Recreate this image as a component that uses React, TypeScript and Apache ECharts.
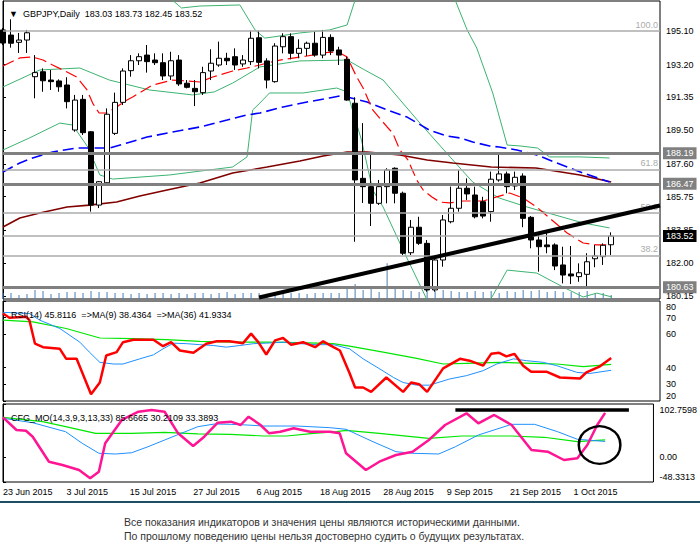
import React, { useEffect, useRef } from 'react';
import * as echarts from 'echarts';

// ---------- price data (daily candles, index 0 = 23 Jun 2015) ----------
const opens = [195.16,194.87,194.46,194.59,192.52,192.80,192.33,192.28,192.05,189.51,191.24,189.41,185.27,186.53,189.32,191.07,192.86,193.42,193.74,193.46,193.31,192.56,193.46,192.15,191.86,191.62,192.84,193.18,193.56,193.65,193.24,193.37,194.72,193.41,192.24,194.21,194.78,193.84,194.12,194.41,193.74,194.74,194.03,193.50,191.02,186.78,186.31,185.37,186.31,187.35,185.94,182.58,184.02,183.11,180.48,182.17,184.33,185.09,186.22,185.84,185.46,184.90,186.69,187.03,186.35,186.91,184.58,183.30,183.02,183.02,181.89,181.38,181.23,181.36,182.24,182.36,183.03];
const highs = [195.27,195.76,194.99,195.16,193.74,192.99,192.90,192.37,192.49,191.49,191.49,189.45,186.63,190.73,191.62,192.99,193.74,193.84,194.31,193.84,193.84,193.93,193.74,192.33,192.33,193.08,194.07,194.50,193.87,194.12,193.74,195.12,195.12,193.56,194.41,194.97,194.97,194.63,194.50,195.06,195.16,194.91,194.21,193.65,191.36,189.90,188.10,186.69,187.35,187.40,186.03,184.43,184.61,183.30,182.36,184.71,186.31,187.25,186.78,186.31,185.74,187.16,188.10,187.16,187.16,187.06,184.65,183.58,183.86,183.11,182.92,182.96,181.98,182.55,183.02,183.11,183.73];
const lows = [194.31,194.16,193.86,193.86,191.30,191.67,191.77,191.67,190.73,189.41,189.23,184.90,185.10,186.40,189.23,190.92,192.52,193.18,192.75,193.18,192.33,192.33,192.00,191.86,190.86,191.49,192.33,193.08,193.18,192.90,193.08,193.18,192.99,191.86,192.18,193.84,193.50,193.56,193.69,193.65,193.56,193.74,193.18,191.16,183.20,185.39,184.09,185.28,185.37,185.37,182.45,182.45,183.02,180.38,180.38,181.79,184.24,184.90,185.56,184.52,184.52,184.33,186.59,185.94,186.12,184.02,182.83,181.51,182.55,181.60,180.85,180.81,180.94,180.66,181.76,181.89,182.45];
const closes = [194.42,194.41,194.59,195.00,192.75,192.29,192.24,191.95,191.11,191.20,189.36,185.27,186.59,190.40,191.07,192.84,193.42,193.65,193.37,193.31,192.56,193.42,192.11,191.92,191.67,192.75,193.28,193.56,193.42,193.18,193.46,194.69,193.33,192.33,194.25,194.78,193.84,194.12,194.41,193.74,194.74,193.97,193.74,191.20,186.69,186.31,185.37,186.31,187.25,185.94,182.55,184.02,183.11,180.48,182.17,184.43,185.09,186.22,185.90,184.61,184.65,186.73,187.03,186.31,186.84,184.52,183.30,182.92,182.92,181.83,181.32,181.27,181.45,182.07,182.40,183.00,183.52];
const volumes = [6,6,4,5,9,8,5,6,7,7,6,8,7,7,6,6,5,6,5,6,6,5,6,5,6,6,5,6,7,5,6,6,6,5,6,7,6,6,5,6,6,6,6,10,15,9,10,7,36,10,9,8,7,10,8,9,8,7,7,8,7,8,6,8,7,9,8,9,7,8,7,7,7,8,6,6,4];

// ---------- moving averages and bands: [bar index, price] ----------
const maFast = [[0,193.12],[2.1,193.58],[3.7,193.63],[5,193.46],[6.2,193.18],[8,192.78],[9.2,192.5],[10.5,191.77],[11.2,191.03],[12,190.47],[12.9,190.47],[14.2,190.81],[15.5,191.2],[16.2,191.37],[18.7,192.05],[21.2,192.33],[23,192.28],[24.6,192.22],[26.2,192.5],[28.7,192.84],[30.5,193.01],[32.1,193.18],[33,193.29],[34.6,193.46],[38,193.69],[40.8,193.91],[42.1,193.86],[43,193.63],[44.2,192.5],[45,191.88],[46.2,190.64],[48,189.68],[48.7,189.34],[49.6,188.38],[50.6,187.82],[51.7,186.69],[52.5,186.12],[53.6,185.73],[54.6,185.44],[55.8,185.39],[57.5,185.5],[60,185.5],[61.7,185.73],[63.3,185.95],[65,185.67],[66.7,185.16],[68.3,184.54],[70.5,183.69],[72.5,183.13],[74.2,183.02],[76,183.02]];
const maMid = [[0,187.14],[2.1,187.65],[3.7,187.93],[6.2,188.27],[9.2,188.49],[13.3,188.49],[15.5,188.78],[18,189.11],[21.2,189.4],[24.6,189.68],[28,190.07],[30.5,190.36],[32.1,190.47],[35,190.81],[38,191.09],[40.8,191.32],[42.1,191.43],[43,191.37],[45.5,191.09],[48,190.64],[50.5,190.24],[53.3,189.5],[55.5,189.17],[57.1,189.06],[58.7,188.83],[60.8,188.61],[62,188.55],[64.2,188.38],[66.7,188.1],[69.2,187.65],[72.5,187.08],[75.8,186.57]];
const maSlow = [[0,184.03],[2.1,184.54],[4.6,184.82],[8,185.16],[10.8,185.27],[14.2,185.44],[17.1,185.78],[20.5,186.12],[24.6,186.52],[28.7,187.08],[33,187.42],[37.1,187.76],[40,188.04],[43,188.27],[45.5,188.27],[49.6,188.1],[53,187.82],[56.2,187.65],[61,187.42],[66.6,187.36],[72.1,186.97],[76,186.57]];
const bandUpper = [[20,197.3],[22.3,196.4],[24.6,196.51],[29.6,196.57],[31.5,195.16],[32.7,194.7],[33.7,194.76],[37.1,194.99],[40.8,195.16],[43,195.44],[44,196.85],[47,198.6],[51,199.2],[54,198.4],[56.5,196.85],[58,195.16],[59.2,194.14],[61.2,191.6],[63,188.66],[64.6,188.61],[66.8,188.49],[68.3,187.99],[72.1,187.99],[75.8,187.93]];
const bandMiddle = [[0,191.94],[4.6,192.9],[9.6,193.01],[13.3,192.33],[18.3,191.77],[23.7,191.49],[26.4,191.66],[28.7,192.16],[32.1,193.07],[37.1,193.41],[43,193.46],[45.2,192.9],[47.5,192.33],[52.1,189.9],[56.2,187.82],[58.7,186.57],[62,185.67],[65.5,185.16],[72.5,184.26],[75.8,183.98]];
const bandLower = [[0,188.38],[3.3,189.06],[7.1,189.9],[8.7,189.79],[10.6,188.55],[12.1,186.97],[13.7,186.74],[20.8,186.97],[28.7,187.42],[30.5,187.99],[31.2,190.64],[32.1,191.03],[33.3,191.6],[37.5,191.6],[41.7,191.88],[43,191.66],[44.8,188.94],[46.2,186.12],[47.5,185.16],[50,182.73],[53,179.91],[55,178.9],[58,178.6],[61.1,180.08],[63,181.6],[66.7,181.43],[70,180.64],[72.5,180.08],[74.2,180.3],[76.1,180.08]];
const trendLine = [[32,180.05],[82.1,185.25]];

// ---------- horizontal levels ----------
const supportLevels = [188.19, 186.47, 180.63];
const fibLevels = [195.10, 187.27, 184.82, 182.40];
const fibNames = ['100.0', '61.8', '50.0', '38.2'];

// ---------- RSI panel ----------
const rsi = [[0,72.5],[0.8,69.9],[2.9,70.5],[3.3,68.5],[4,54.4],[5,52.3],[7.1,51.3],[7.9,45.3],[9.2,45.3],[11,24.1],[12.1,31.1],[12.9,47.3],[14.2,49.3],[15,55.3],[16.3,56.8],[18.8,56.8],[20,52.9],[21,55.3],[22.1,50.3],[23.8,48.9],[25.4,54.4],[26.7,55.9],[28.3,55.9],[30,54.7],[31,60.4],[31.9,55.3],[32.9,47.9],[34,56.4],[35,57.8],[36,53.8],[37.5,55.3],[39,52.3],[40,55.8],[41.3,52.3],[42.1,50.3],[43.3,36.8],[44,28.1],[45,28.1],[46,25.5],[47.9,34.1],[50,25.5],[51,31.1],[52,30.1],[53,25.5],[55,39.6],[57.1,45.3],[58.3,44.2],[60,41.2],[61,48.3],[62,48.9],[62.9,46.8],[63.9,48.3],[65,41.2],[66,37.6],[67.9,37.6],[69.6,34.1],[72.1,33.5],[72.9,37.2],[74.6,40.8],[76,45.8116]];
const rsiMa9 = [[0,73.2],[3.3,72.5],[4.6,68.5],[7.1,63.5],[9.6,55.3],[10.8,49.3],[12.1,43.2],[13.8,42.2],[15,42.2],[17.1,45.3],[18.8,47.7],[20,51.3],[21.3,54.7],[22.9,54.4],[24.6,53.8],[26.3,53.3],[27.9,52.3],[29.6,53.3],[31.3,54.4],[32.9,54.7],[35,55.3],[37.1,54.4],[39.2,53.8],[41.3,53.8],[43.3,51.3],[45,45.3],[47.1,39.2],[48.8,34.1],[50,31.1],[51.7,29.5],[53.3,29.5],[55.8,33.2],[57.9,35.2],[60,38.2],[61.7,42.2],[63.8,45.3],[65.4,44.2],[67.5,43.2],[69.2,41.2],[71.7,37.2],[73.3,36.5],[76,38.4364]];
const rsiMa36 = [[0,68.5],[3.75,67.5],[7.9,63.5],[12.1,57.8],[16.3,57.4],[20.4,56.8],[24.6,55.8],[28.75,55.3],[32.9,55.3],[37.1,55.0],[41.25,54.4],[43.3,52.9],[47.5,49.3],[51.7,45.6],[55,42.2],[57.9,42.6],[62,43.2],[66.25,42.6],[69.2,42.2],[72.5,40.6],[76,41.9334]];

// ---------- CFG_MO panel ----------
const cfgMain = [[0,77.0],[1.7,52.4],[2.9,51.0],[3.75,39.4],[5.8,-9.0],[7.5,-15.4],[9.6,-25.1],[11,-41.2],[12.1,-28.4],[12.9,26.6],[15,71.8],[17.1,87.8],[18.75,91.1],[20.4,87.8],[22.1,46.0],[24,21.4],[25.4,39.4],[27.1,66.5],[28.75,68.5],[30,62.1],[31,78.2],[32.5,62.1],[33.6,46.0],[35,49.1],[36.7,55.7],[38.75,49.1],[41.25,49.1],[42.5,46.0],[43.3,7.3],[45.8,-25.1],[47.5,-9.0],[49.6,4.0],[51.7,10.4],[53.75,33.0],[55.8,62.1],[58.5,84.7],[60,65.4],[62,81.5],[64.2,62.1],[66.7,13.7],[68.75,10.4],[70.8,-5.7],[72.5,-2.4],[73.75,23.3],[75,62.1],[76,85.6665]];
const cfgSignal = [[0,75.1],[3.75,66.5],[7.9,49.1],[10,26.6],[12.1,7.3],[14.2,5.9],[16.25,8.4],[18.3,20.0],[20.4,33.0],[22.5,46.0],[24.6,58.8],[26.7,64.0],[28.75,63.4],[30.8,62.1],[32.9,60.1],[37.1,60.1],[41.25,56.9],[43.3,53.8],[46.7,29.7],[49.6,10.4],[51.7,7.3],[55,5.9],[57.1,20.0],[60,42.7],[64.2,63.4],[67.1,63.4],[70,49.1],[72.5,34.4],[76,30.2109]];
const cfgSlow = [[0,77.0],[5,68.5],[7.9,58.8],[11.7,46.0],[16.25,46.0],[20.4,47.9],[24.6,44.7],[28.75,44.1],[32.9,40.8],[35.8,40.8],[39.2,46.0],[42.1,49.1],[43.3,51.8],[47.5,46.0],[53.75,36.3],[57.9,40.8],[64.2,40.8],[68.3,38.3],[72.5,29.7],[76,33.3893]];
const cfgBar = [[57.1,91.1],[79,91.1]];
const cfgCircle = [[75.3,23.3]];

// ---------- axes ----------
const priceTicks = [195.10, 193.20, 191.35, 189.50, 187.60, 185.75, 183.85, 182.00, 180.15];
const rsiTicks = [80, 70, 60, 40, 30, 20];
const cfgTicks = [102.7598, 0, -48.3313];
const dateTickIdx = [0, 8, 16, 24, 32, 40, 48, 56, 64, 72];
const dateLabels = ['23 Jun 2015', '3 Jul 2015', '15 Jul 2015', '27 Jul 2015', '6 Aug 2015', '18 Aug 2015', '28 Aug 2015', '9 Sep 2015', '21 Sep 2015', '1 Oct 2015'];
const disclaimer = [
  'Все показания индикаторов и значения цены являются историческими данными.',
  'По прошлому поведению цены нельзя достоверно судить о будущих результатах.',
];

const FONT = '"Liberation Sans", Arial, sans-serif';

export default function App() {
  const ref = useRef<HTMLDivElement>(null);
  useEffect(() => {
    document.body.style.margin = '0';
    if (!ref.current) return;
    const chart = echarts.init(ref.current, undefined, { renderer: 'svg' });
    const last = opens.length - 1;
    const candleData = opens.map((o, i) => [i, o, closes[i], lows[i], highs[i]]);
    const volumeData = volumes.map((v, i) => [i, v]);
    const bid = closes[last];
    const header = `▼  GBPJPY,Daily  ${opens[last].toFixed(2)} ${highs[last].toFixed(2)} ${lows[last].toFixed(2)} ${closes[last].toFixed(2)}`;
    const lastV = (a: number[][]) => a[a.length - 1][1].toFixed(4);
    const rsiTitle = `RSI(14) ${lastV(rsi)}  =>MA(9) ${lastV(rsiMa9)}  =>MA(36) ${lastV(rsiMa36)}`;
    const cfgTitle = `CFG_MO(14,3,9,3,13,33) ${lastV(cfgMain)} ${lastV(cfgSignal)} ${lastV(cfgSlow)}`;

    const line = (data: number[][], xi: number, yi: number, color: string, width: number, type: any = 'solid', z = 3) => ({
      type: 'line', data, xAxisIndex: xi, yAxisIndex: yi, symbol: 'none', showSymbol: false,
      lineStyle: { color, width, type }, z, silent: true, clip: true,
    });

    const txt = { fontFamily: FONT, fontSize: 9, color: '#000' };
    const gridBase = { left: 3, width: 657, show: true, borderColor: '#000', borderWidth: 1, backgroundColor: '#fff' };

    const yCommon = (gi: number, min: number, max: number, ticks: number[], fmt: (v: number) => string) => ({
      gridIndex: gi, type: 'value', position: 'right', min, max,
      axisLine: { show: true, lineStyle: { color: '#000', width: 1 } },
      axisTick: { show: true, length: 3, customValues: ticks, lineStyle: { color: '#000' } },
      axisLabel: { customValues: ticks, formatter: fmt, ...txt, margin: 6, lineHeight: 11 },
      splitLine: { show: false },
    });

    const option: any = {
      animation: false,
      backgroundColor: '#fff',
      title: [
        { text: header, left: 4, top: 4, textStyle: { ...txt, fontWeight: 'normal' } },
        { text: rsiTitle, left: 6, top: 305, textStyle: { ...txt, fontWeight: 'normal' } },
        { text: cfgTitle, left: 6, top: 408, textStyle: { ...txt, fontWeight: 'normal' } },
      ],
      grid: [
        { ...gridBase, top: 1, height: 298 },
        { ...gridBase, top: 301, height: 100 },
        { ...gridBase, top: 404, height: 78 },
      ],
      xAxis: [0, 1, 2].map((g) => ({
        type: 'value', gridIndex: g, min: 0, max: 82.1,
        axisLine: { show: false }, axisTick: { show: false }, splitLine: { show: false },
        axisLabel: g === 2 ? {
          show: true, customValues: dateTickIdx, align: 'left', margin: 5, ...txt,
          formatter: (v: number) => { const k = dateTickIdx.indexOf(Math.round(v)); return k >= 0 ? dateLabels[k] : ''; },
        } : { show: false },
      })),
      yAxis: [
        yCommon(0, 179.967, 196.794, priceTicks, (v) => v.toFixed(2)),
        { gridIndex: 0, type: 'value', min: 0, max: 300, show: false },
        yCommon(1, 20, 80, rsiTicks, (v) => (v === 80 ? '\n80' : v === 20 ? '20\n' : String(v))),
        yCommon(2, -48.3313, 102.7598, cfgTicks, (v) => (v > 100 ? '\n' + v.toFixed(4) : v < -40 ? v.toFixed(4) + '\n' : v.toFixed(2))),
      ],
      graphic: [
        { type: 'rect', shape: { x: 0, y: 501, width: 700, height: 2 }, style: { fill: '#1d4f63' } },
        { type: 'text', x: 124, y: 516, style: { text: disclaimer[0], font: `10.5px ${FONT}`, fill: '#333' } },
        { type: 'text', x: 124, y: 530, style: { text: disclaimer[1], font: `10.5px ${FONT}`, fill: '#333' } },
      ],
      series: [
        {
          type: 'bar', data: volumeData, xAxisIndex: 0, yAxisIndex: 1, barWidth: 1,
          itemStyle: { color: '#4a7fb0' }, silent: true, z: 1,
        },
        line(bandUpper, 0, 0, '#3cb371', 1),
        line(bandMiddle, 0, 0, '#3cb371', 1),
        line(bandLower, 0, 0, '#3cb371', 1),
        line(maSlow, 0, 0, '#800000', 1.6),
        line(maMid, 0, 0, '#0000ff', 1.6, [11, 5]),
        line(maFast, 0, 0, '#ff0000', 1.2, [12, 5]),
        {
          type: 'candlestick', data: candleData, xAxisIndex: 0, yAxisIndex: 0,
          encode: { x: 0, y: [1, 2, 3, 4] }, barWidth: 5, z: 4, silent: true, clip: true,
          itemStyle: { color: '#ffffff', color0: '#000000', borderColor: '#000000', borderColor0: '#000000', borderWidth: 1 },
          markLine: {
            symbol: 'none', silent: true, animation: false,
            data: [
              ...fibLevels.map((v, k) => ({
                yAxis: v,
                lineStyle: { color: '#ababab', width: 1.5, type: 'solid' },
                label: { show: true, position: 'insideEndTop', formatter: fibNames[k], color: '#ababab', fontFamily: FONT, fontSize: 9, distance: 2 },
              })),
              {
                yAxis: bid,
                lineStyle: { color: '#ababab', width: 1.5, type: 'solid' },
                label: { show: true, position: 'end', formatter: bid.toFixed(2), color: '#fff', backgroundColor: '#000', padding: [2, 3, 1, 3], fontFamily: FONT, fontSize: 9, distance: 3 },
              },
              ...supportLevels.map((v) => ({
                yAxis: v,
                lineStyle: { color: '#808080', width: 3, type: 'solid' },
                label: { show: true, position: 'end', formatter: v.toFixed(2), color: '#fff', backgroundColor: '#808080', padding: [2, 3, 1, 3], fontFamily: FONT, fontSize: 9, distance: 3 },
              })),
            ],
          },
        },
        line(trendLine, 0, 0, '#000', 4, 'solid', 6),
        // RSI
        line(rsiMa36, 1, 2, '#00e600', 1.2),
        line(rsiMa9, 1, 2, '#1e90ff', 1),
        line(rsi, 1, 2, '#ff0000', 2.5, 'solid', 4),
        // CFG_MO
        line(cfgSlow, 2, 3, '#00e600', 1.2),
        line(cfgSignal, 2, 3, '#1e90ff', 1),
        line(cfgMain, 2, 3, '#ff1493', 2.5, 'solid', 4),
        line(cfgBar, 2, 3, '#000', 3.5, 'solid', 5),
        {
          type: 'custom', xAxisIndex: 2, yAxisIndex: 3, data: cfgCircle, z: 6, silent: true,
          renderItem: (params: any, api: any) => {
            const p = api.coord([api.value(0), api.value(1)]);
            return {
              type: 'circle', x: p[0], y: p[1], scaleX: 1.04, scaleY: 0.935,
              shape: { cx: 0, cy: 0, r: 20 },
              style: { fill: 'transparent', stroke: '#000', lineWidth: 2.4 },
            };
          },
        },
      ],
    };
    chart.setOption(option);
    return () => chart.dispose();
  }, []);
  return <div ref={ref} style={{ width: 700, height: 552 }} />;
}
